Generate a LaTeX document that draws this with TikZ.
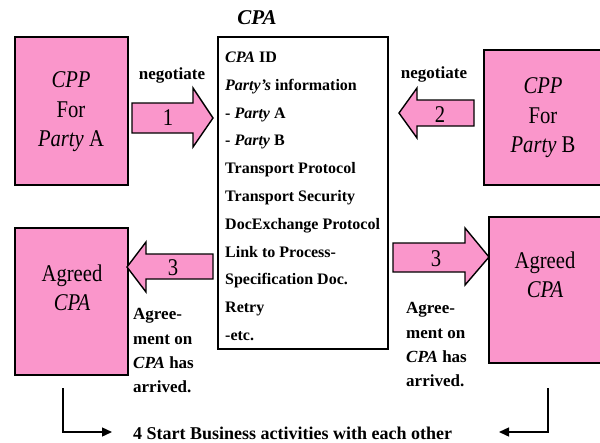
\documentclass[tikz,border=0pt]{standalone}
\usepackage{fontspec}
\setmainfont{Liberation Serif}
\newfontfamily\plainfont[FakeStretch=0.86]{Liberation Serif}
\usetikzlibrary{arrows.meta}
\definecolor{boxpink}{RGB}{250,150,203}
\begin{document}
\begin{tikzpicture}[x=1pt,y=-1pt]
\tikzset{
  pinkbox/.style={draw=black, fill=boxpink, line width=1.4pt, rectangle, inner sep=0pt},
  listbox/.style={draw=black, fill=white, line width=1.2pt, rectangle, inner sep=0pt},
  blockarrow/.style={draw=black, fill=boxpink, line width=1.4pt, line join=miter},
  boxtext/.style={font=\plainfont\fontsize{24}{29.5}\selectfont, align=center, inner sep=0pt},
  numtext/.style={font=\plainfont\fontsize{24}{24}\selectfont, inner sep=0pt},
  boldlabel/.style={font=\bfseries\fontsize{17}{20}\selectfont, inner sep=0pt},
  listline/.style={font=\bfseries\fontsize{16}{20}\selectfont, anchor=base west, inner sep=0pt},
  note/.style={font=\bfseries\fontsize{17}{24.3}\selectfont, align=left, anchor=north west, inner sep=0pt},
  link/.style={line width=1.4pt, -{Triangle[length=10pt,width=9pt]}},
}
\useasboundingbox (0,0) rectangle (600,442);
\clip (0,0) rectangle (600,442);

% title of the agreement
\node[font=\bfseries\itshape\fontsize{21}{24}\selectfont, inner sep=0pt] (title) at (257,18) {CPA};

% profile and agreement boxes
\node[pinkbox, minimum width=113pt, minimum height=148pt] (cppA) at (71.5,111) {};
\node[pinkbox, minimum width=126pt, minimum height=135pt] (cppB) at (547,117.5) {};
\node[pinkbox, minimum width=113pt, minimum height=147pt] (agrA) at (71.5,301.5) {};
\node[pinkbox, minimum width=123pt, minimum height=146pt] (agrB) at (550.5,290) {};
\node[listbox, minimum width=170pt, minimum height=312pt] (cpa) at (303,193) {};

\node[boxtext] (cppAtxt) at (71,112) {\textit{CPP}\\For\\\textit{Party} A};
\node[boxtext] (cppBtxt) at (543,118) {\textit{CPP}\\For\\\textit{Party} B};
\node[boxtext] (agrAtxt) at (72,288) {Agreed\\\textit{CPA}};
\node[boxtext] (agrBtxt) at (545,275) {Agreed\\\textit{CPA}};

% contents of the agreement
\foreach \t [count=\i from 0] in {
  {\textit{CPA} ID},
  {\textit{Party's} information},
  {- \textit{Party} A},
  {- \textit{Party} B},
  {Transport Protocol},
  {Transport Security},
  {DocExchange Protocol},
  {Link to Process-},
  {Specification Doc.},
  {Retry},
  {-etc.}}
  \node[listline] (cpaline\i) at (225,{62.5+27.8*\i}) {\t};

% block arrows
\draw[blockarrow] (132,103) -- (193,103) -- (193,88) -- (213,118) -- (193,147) -- (193,133) -- (132,133) -- cycle;
\draw[blockarrow] (474,100) -- (417,100) -- (417,88) -- (399,113) -- (417,138) -- (417,126) -- (474,126) -- cycle;
\draw[blockarrow] (213,254) -- (146,254) -- (146,242) -- (127,267) -- (146,292) -- (146,279) -- (213,279) -- cycle;
\draw[blockarrow] (393,243) -- (465,243) -- (465,228) -- (489,257) -- (465,285) -- (465,272) -- (393,272) -- cycle;

\node[numtext] (n1) at (168,118) {1};
\node[numtext] (n2) at (440,115) {2};
\node[numtext] (n3a) at (173,268) {3};
\node[numtext] (n3b) at (436,259) {3};

\node[boldlabel] (negA) at (172,75) {negotiate};
\node[boldlabel] (negB) at (434,74) {negotiate};

\node[note] (noteA) at (133,308.5) {Agree-\\ment on\\\textit{CPA} has\\arrived.};
\node[note] (noteB) at (406,302.5) {Agree-\\ment on\\\textit{CPA} has\\arrived.};

% final step
\node[font=\bfseries\fontsize{18}{20}\selectfont, anchor=base west, inner sep=0pt] (start) at (133,439) {4 Start Business activities with each other};

\coordinate (fromA) at (63,388);
\coordinate (toA) at (112,432);
\coordinate (fromB) at (548,388);
\coordinate (toB) at (499,432);
\draw[link] (fromA) |- (toA);
\draw[link] (fromB) |- (toB);
\end{tikzpicture}
\end{document}
